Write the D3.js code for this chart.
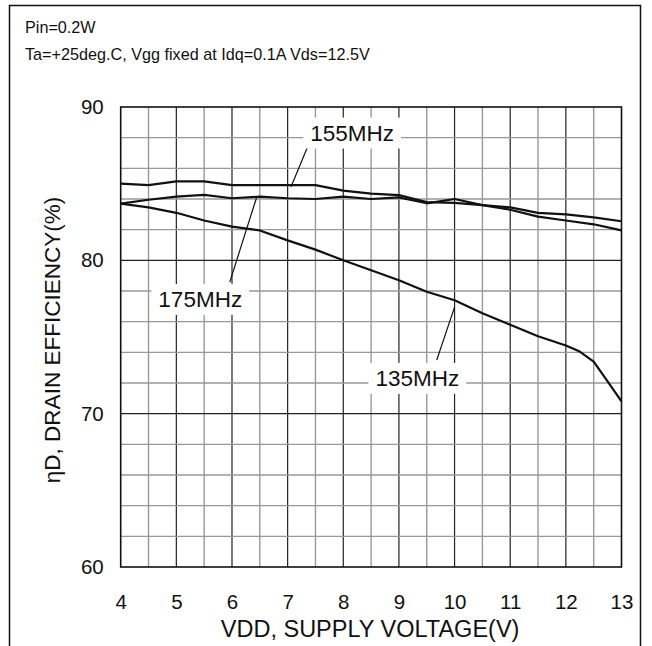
<!DOCTYPE html>
<html><head><meta charset="utf-8">
<script src="https://cdn.jsdelivr.net/npm/d3@7"></script>
<style>body{margin:0;background:#fff}svg{display:block}text{font-family:"Liberation Sans",Arial,sans-serif;fill:#111}</style>
</head><body>
<script>
const voltage = [4,4.5,5,5.5,6,6.5,7,7.5,8,8.5,9,9.5,10,10.5,11,11.5,12,12.5,13];
const eff155 = [85.0,84.9,85.15,85.15,84.9,84.9,84.9,84.9,84.55,84.35,84.25,83.8,83.75,83.6,83.45,83.1,83.0,82.8,82.55];
const eff175 = [83.7,83.95,84.15,84.27,84.05,84.15,84.05,84.0,84.15,84.0,84.1,83.72,84.0,83.6,83.3,82.85,82.6,82.35,81.95];
const voltage135 = [4,4.5,5,5.5,6,6.5,7,7.5,8,8.5,9,9.5,10,10.5,11,11.5,12,12.25,12.5,12.75,13];
const eff135 = [83.7,83.45,83.1,82.6,82.2,81.95,81.3,80.7,80.0,79.35,78.7,77.95,77.4,76.55,75.8,75.05,74.45,74.05,73.4,72.1,70.8];
const xTicks = [4,5,6,7,8,9,10,11,12,13];
const yTicks = [60,70,80,90];
const labels = [
  {text:"155MHz", tx:8.16, ty:88.3, x1:7.35, y1:87.33, x2:7.06, y2:84.78},
  {text:"175MHz", tx:5.43, ty:77.45, x1:5.96, y1:78.58, x2:6.45, y2:84.19},
  {text:"135MHz", tx:9.33, ty:72.3, x1:9.68, y1:73.5, x2:10.0, y2:76.95}
];
const headerLines = ["Pin=0.2W","Ta=+25deg.C, Vgg fixed at Idq=0.1A Vds=12.5V"];

const W=652,H=646;
const svg=d3.select("body").append("svg").attr("width",W).attr("height",H);
const L=120.7,R=621.5,T=107,B=567;
const x=d3.scaleLinear().domain([4,13]).range([L,R]);
const y=d3.scaleLinear().domain([60,90]).range([B,T]);

// outer frame (open at bottom)
svg.append("path").attr("d",`M9.5,${H} V5.5 H640.5 V${H}`).attr("fill","none").attr("stroke","#111").attr("stroke-width",1.5);

// header
svg.selectAll("text.hdr").data(headerLines).join("text").attr("class","hdr")
  .attr("x",25).attr("y",(d,i)=>33+i*27).attr("font-size",16.2).text(d=>d);

// grid
const g=svg.append("g");
const vGrid=d3.range(4.5,13,0.5);
g.selectAll("line.v").data(vGrid).join("line")
  .attr("x1",d=>x(d)).attr("x2",d=>x(d)).attr("y1",T).attr("y2",B)
  .attr("stroke",d=>Number.isInteger(d)?"#222":"#999").attr("stroke-width",d=>Number.isInteger(d)?1.2:1.4);
const hGrid=d3.range(62,90,2);
g.selectAll("line.h").data(hGrid).join("line")
  .attr("y1",d=>y(d)).attr("y2",d=>y(d)).attr("x1",L).attr("x2",R)
  .attr("stroke",d=>d%10===0?"#222":"#999").attr("stroke-width",d=>d%10===0?1.2:1.4);

// axes via d3
const xAxis=svg.append("g").attr("transform",`translate(0,${B})`)
  .call(d3.axisBottom(x).tickValues(xTicks).tickSize(0).tickPadding(27));
xAxis.select(".domain").remove();
xAxis.selectAll("text").attr("font-size",20.5).attr("font-family","Liberation Sans, Arial, sans-serif").attr("fill","#111");
const yAxis=svg.append("g").attr("transform",`translate(${L},0)`)
  .call(d3.axisLeft(y).tickValues(yTicks).tickSize(0).tickPadding(17));
yAxis.select(".domain").remove();
yAxis.selectAll("text").attr("font-size",20.5).attr("font-family","Liberation Sans, Arial, sans-serif").attr("fill","#111");

// plot border
svg.append("rect").attr("x",L).attr("y",T).attr("width",R-L).attr("height",B-T)
  .attr("fill","none").attr("stroke","#111").attr("stroke-width",1.6);

// curves
const line=d3.line().x(d=>x(d[0])).y(d=>y(d[1]));
const series=[d3.zip(voltage,eff155),d3.zip(voltage,eff175),d3.zip(voltage135,eff135)];
svg.selectAll("path.s").data(series).join("path").attr("class","s")
  .attr("d",line).attr("fill","none").attr("stroke","#111").attr("stroke-width",2.2).attr("stroke-linejoin","round");

// annotations
labels.forEach(l=>{
  svg.append("line").attr("x1",x(l.x1)).attr("y1",y(l.y1)).attr("x2",x(l.x2)).attr("y2",y(l.y2))
    .attr("stroke","#111").attr("stroke-width",1.2);
  const t=svg.append("text").attr("x",x(l.tx)).attr("y",y(l.ty)).attr("text-anchor","middle")
    .attr("dominant-baseline","central").attr("font-size",22.5).text(l.text);
  const bb=t.node().getBBox();
  svg.insert("rect",()=>t.node()).attr("x",bb.x-7).attr("y",bb.y-3).attr("width",bb.width+14).attr("height",bb.height+6).attr("fill","#fff");
});

// axis titles
svg.append("text").attr("x",(L+R)/2-1).attr("y",637).attr("text-anchor","middle").attr("font-size",23.5).text("VDD, SUPPLY VOLTAGE(V)");
svg.append("text").attr("transform",`translate(60,${(T+B)/2+3}) rotate(-90)`).attr("text-anchor","middle").attr("font-size",22.5).text("ηD, DRAIN EFFICIENCY(%)");
</script>
</body></html>
